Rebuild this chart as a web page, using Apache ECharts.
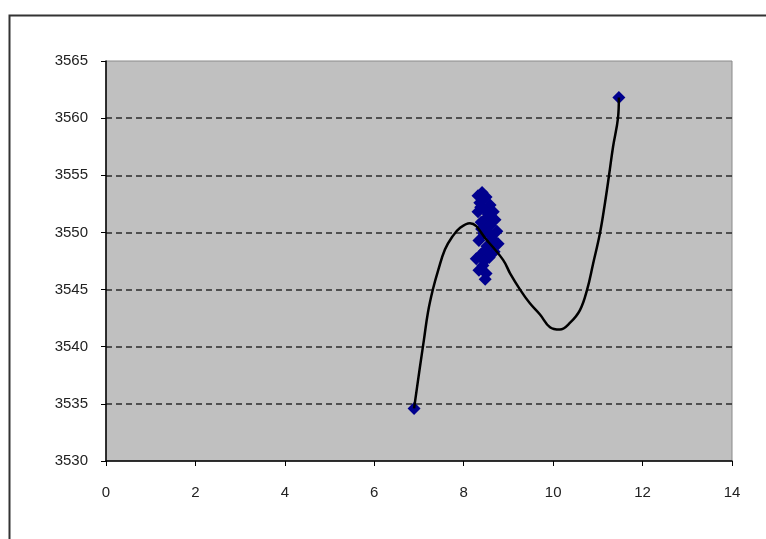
<!DOCTYPE html>
<html>
<head>
<meta charset="utf-8">
<script src="https://cdn.jsdelivr.net/npm/echarts@6/dist/echarts.min.js"></script>
<style>
  html, body { margin: 0; padding: 0; background: #fff; }
  #chart { width: 766px; height: 539px; }
</style>
</head>
<body>
<div id="chart"></div>
<script>
// measured points (x, y)
var pointX = [6.89, 8.41, 8.32, 8.50, 8.36, 8.59, 8.45, 8.66, 8.32, 8.52, 8.70, 8.39, 8.59, 8.74,
  8.45, 8.63, 8.34, 8.77, 8.52, 8.68, 8.39, 8.28, 8.57, 8.43, 8.34, 8.50, 8.48,
  8.44, 8.55, 8.40, 8.62, 8.47, 8.56, 8.38, 8.46, 11.47];
var pointY = [3534.6, 3553.5, 3553.2, 3553.1, 3552.6, 3552.4, 3552.1, 3551.8, 3551.8, 3551.3, 3551.1, 3550.9, 3550.6, 3550.1,
  3549.9, 3549.5, 3549.3, 3549.0, 3548.8, 3548.3, 3548.1, 3547.7, 3547.8, 3547.1, 3546.7, 3546.4, 3545.9,
  3552.9, 3551.6, 3550.3, 3549.1, 3548.4, 3550.0, 3552.2, 3547.5, 3561.8];

// smoothed curve
var curveX = [6.89, 7.02, 7.11, 7.20, 7.31, 7.43, 7.58, 7.74, 7.92, 8.14, 8.52, 8.88, 9.04, 9.26, 9.48,
  9.71, 9.93, 10.15, 10.38, 10.60, 10.76, 10.89, 11.05, 11.16, 11.25, 11.34, 11.45, 11.47];
var curveY = [3534.6, 3538.2, 3540.6, 3543.0, 3545.0, 3546.7, 3548.5, 3549.6, 3550.4, 3550.8, 3549.3, 3547.6, 3546.4, 3545.0, 3543.8,
  3542.8, 3541.7, 3541.5, 3542.1, 3543.2, 3545.0, 3547.2, 3550.0, 3552.6, 3555.0, 3557.5, 3560.0, 3561.8];

var xMin = 0, xMax = 14, xStep = 2;
var yMin = 3530, yMax = 3565, yStep = 5;

function zip(a, b) {
  var out = [];
  for (var i = 0; i < a.length; i++) out.push([a[i], b[i]]);
  return out;
}

function plain(v) {
  return String(v);
}

var myChart = echarts.init(document.getElementById("chart"));
var labelFont = { color: "#222", fontSize: 15, fontFamily: "Liberation Sans, Arial, sans-serif", formatter: plain };

var option = {
  animation: false,
  backgroundColor: "#fff",
  graphic: [{
    type: "rect",
    left: 7, top: 13,
    shape: { width: 800, height: 600 },
    style: { fill: "none", stroke: "#333", lineWidth: 2 },
    silent: true
  }],
  grid: {
    left: 106, right: 34, top: 61, bottom: 78,
    show: true,
    backgroundColor: "#c0c0c0",
    borderColor: "#8a8a8a",
    borderWidth: 1
  },
  xAxis: {
    type: "value",
    min: xMin, max: xMax, interval: xStep,
    axisLine: { show: true, onZero: false, lineStyle: { color: "#000", width: 1.5 } },
    axisTick: { show: true, length: 5, lineStyle: { color: "#000" } },
    axisLabel: Object.assign({ margin: 24 }, labelFont),
    splitLine: { show: false }
  },
  yAxis: {
    type: "value",
    min: yMin, max: yMax, interval: yStep,
    axisLine: { show: true, lineStyle: { color: "#000", width: 1.5 } },
    axisTick: { show: true, length: 5, lineStyle: { color: "#000" } },
    axisLabel: Object.assign({ margin: 18 }, labelFont),
    splitLine: {
      show: true,
      showMinLine: false,
      showMaxLine: false,
      lineStyle: { color: "#2a2a2a", width: 1.5, type: [6, 4] }
    }
  },
  series: [{
    name: "points",
    type: "scatter",
    symbol: "diamond",
    symbolSize: [13, 13],
    itemStyle: { color: "#00008e", opacity: 1 },
    data: zip(pointX, pointY),
    z: 2
  }, {
    name: "curve",
    type: "line",
    smooth: 0.4,
    showSymbol: false,
    lineStyle: { color: "#000", width: 2.5 },
    data: zip(curveX, curveY),
    z: 3
  }]
};

myChart.setOption(option);
</script>
</body>
</html>
